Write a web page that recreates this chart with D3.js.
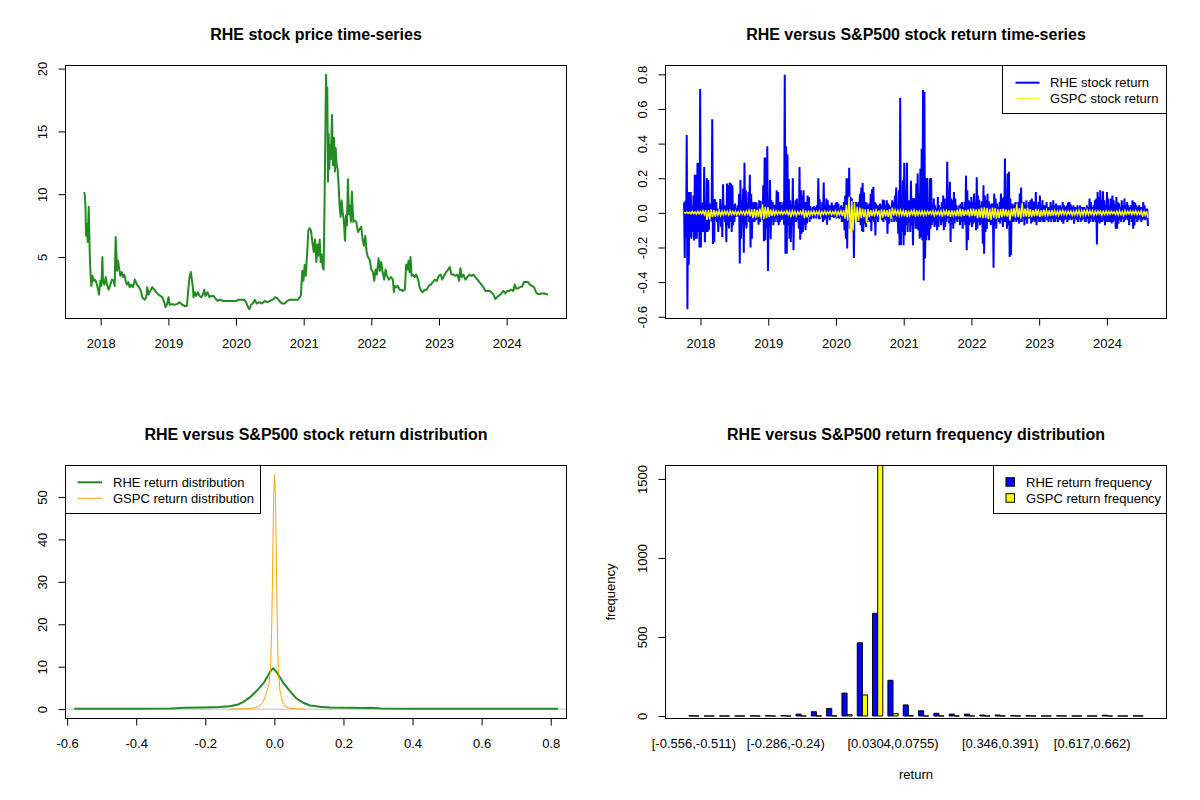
<!DOCTYPE html>
<html>
<head>
    <meta charset="UTF-8">
    <title>RHE versus S&amp;P500</title>
    <script src="https://d3js.org/d3.v7.min.js"></script>
    <style>
        body { margin: 0; background: #fff; }
        svg { display: block; font-family: "Liberation Sans", Arial, Helvetica, sans-serif; }
    </style>
</head>
<body>
    <svg id="chart" width="1200" height="800"></svg>

    <script>
        // ---- price series (decimal year, close) ----
        const priceYears = [
            2017.754, 2017.764, 2017.774, 2017.784, 2017.798, 2017.808, 2017.823, 2017.838, 2017.848, 2017.862,
            2017.877, 2017.897, 2017.916, 2017.936, 2017.961, 2017.975, 2017.995, 2018.010, 2018.025, 2018.034,
            2018.054, 2018.074, 2018.093, 2018.118, 2018.143, 2018.167, 2018.192, 2018.206, 2018.221, 2018.231,
            2018.241, 2018.256, 2018.270, 2018.290, 2018.310, 2018.329, 2018.349, 2018.369, 2018.388, 2018.408,
            2018.428, 2018.452, 2018.477, 2018.506, 2018.536, 2018.565, 2018.595, 2018.615, 2018.649, 2018.674,
            2018.688, 2018.708, 2018.733, 2018.762, 2018.792, 2018.821, 2018.851, 2018.880, 2018.910, 2018.939,
            2018.959, 2018.978, 2019.003, 2019.018, 2019.057, 2019.091, 2019.126, 2019.165, 2019.205, 2019.244,
            2019.273, 2019.293, 2019.313, 2019.332, 2019.347, 2019.362, 2019.372, 2019.391, 2019.411, 2019.436,
            2019.460, 2019.485, 2019.509, 2019.529, 2019.549, 2019.578, 2019.608, 2019.637, 2019.667, 2019.696,
            2019.731, 2019.765, 2019.804, 2019.844, 2019.883, 2019.922, 2019.962, 2020.001, 2020.040, 2020.080,
            2020.119, 2020.148, 2020.178, 2020.198, 2020.222, 2020.247, 2020.276, 2020.306, 2020.345, 2020.384,
            2020.424, 2020.463, 2020.502, 2020.542, 2020.581, 2020.611, 2020.640, 2020.679, 2020.719, 2020.758,
            2020.797, 2020.837, 2020.876, 2020.915, 2020.945, 2020.960, 2020.966, 2020.980, 2020.995, 2021.015,
            2021.030, 2021.049, 2021.069, 2021.089, 2021.108, 2021.128, 2021.148, 2021.167, 2021.187, 2021.202,
            2021.216, 2021.236, 2021.251, 2021.266, 2021.280, 2021.295, 2021.310, 2021.320, 2021.330, 2021.339,
            2021.349, 2021.359, 2021.369, 2021.379, 2021.389, 2021.403, 2021.418, 2021.433, 2021.448, 2021.462,
            2021.472, 2021.487, 2021.502, 2021.516, 2021.531, 2021.546, 2021.561, 2021.576, 2021.595, 2021.610,
            2021.625, 2021.639, 2021.654, 2021.669, 2021.684, 2021.698, 2021.713, 2021.733, 2021.753, 2021.777,
            2021.802, 2021.826, 2021.851, 2021.871, 2021.890, 2021.910, 2021.930, 2021.949, 2021.974, 2021.999,
            2022.023, 2022.043, 2022.062, 2022.082, 2022.107, 2022.126, 2022.146, 2022.166, 2022.190, 2022.210,
            2022.230, 2022.259, 2022.289, 2022.318, 2022.333, 2022.348, 2022.367, 2022.392, 2022.417, 2022.441,
            2022.466, 2022.495, 2022.515, 2022.535, 2022.549, 2022.564, 2022.579, 2022.594, 2022.613, 2022.638,
            2022.663, 2022.692, 2022.712, 2022.736, 2022.761, 2022.790, 2022.820, 2022.849, 2022.879, 2022.909,
            2022.938, 2022.968, 2022.997, 2023.027, 2023.046, 2023.076, 2023.105, 2023.135, 2023.159, 2023.184,
            2023.213, 2023.243, 2023.273, 2023.297, 2023.317, 2023.336, 2023.361, 2023.391, 2023.420, 2023.450,
            2023.479, 2023.509, 2023.538, 2023.568, 2023.597, 2023.627, 2023.656, 2023.686, 2023.715, 2023.745,
            2023.774, 2023.804, 2023.833, 2023.863, 2023.892, 2023.922, 2023.951, 2023.981, 2024.010, 2024.040,
            2024.069, 2024.099, 2024.119, 2024.138, 2024.168, 2024.197, 2024.227, 2024.256, 2024.286, 2024.315,
            2024.345, 2024.374, 2024.404, 2024.433, 2024.463, 2024.492, 2024.522, 2024.552, 2024.581, 2024.610
        ];
        const priceValues = [
            10.16, 10.0, 9.1, 6.7, 7.6, 6.2, 9.0, 5.2, 3.8, 2.7,
            3.5, 3.1, 3.2, 3.0, 2.4, 2.0, 3.1, 2.7, 5.0, 3.1,
            2.8, 3.4, 2.8, 2.4, 2.8, 3.2, 3.1, 2.7, 6.6, 5.5,
            3.9, 4.7, 4.2, 3.5, 3.8, 3.4, 3.6, 3.1, 2.8, 3.0,
            2.6, 2.8, 2.6, 3.2, 2.8, 2.6, 2.3, 1.8, 1.6, 1.8,
            2.6, 2.0, 2.3, 2.6, 2.4, 2.2, 2.0, 1.9, 1.8, 1.4,
            1.0, 1.2, 1.8, 1.2, 1.25, 1.2, 1.25, 1.4, 1.2, 1.1,
            1.1, 2.3, 3.4, 3.8, 3.2, 2.6, 1.8, 2.2, 1.9, 2.2,
            1.9, 1.8, 2.0, 2.4, 1.9, 2.2, 1.8, 1.9, 1.9, 1.7,
            1.5, 1.6, 1.5, 1.5, 1.5, 1.5, 1.5, 1.5, 1.6, 1.6,
            1.6, 1.4, 1.0, 0.85, 1.2, 1.3, 1.6, 1.3, 1.4, 1.3,
            1.5, 1.4, 1.5, 1.6, 1.8, 1.7, 1.5, 1.3, 1.3, 1.5,
            1.6, 1.6, 1.6, 1.6, 1.8, 2.0, 2.7, 3.9, 3.1, 4.36,
            3.5, 5.1, 7.1, 7.3, 7.1, 6.2, 5.4, 6.4, 4.6, 6.0,
            5.1, 6.4, 4.6, 5.2, 4.2, 4.0, 9.9, 14.7, 19.5, 17.6,
            18.5, 11.0, 14.8, 12.0, 13.9, 12.8, 16.3, 12.3, 14.5, 11.8,
            13.7, 12.3, 12.0, 10.7, 9.1, 8.2, 9.5, 8.6, 7.8, 6.3,
            8.3, 7.5, 11.2, 8.4, 9.1, 7.8, 10.2, 7.8, 7.9, 7.8,
            7.0, 7.2, 7.4, 6.4, 5.9, 6.7, 5.4, 5.0, 4.8, 4.0,
            3.8, 3.1, 4.0, 3.6, 4.9, 3.9, 4.6, 3.8, 3.2, 4.0,
            3.5, 3.2, 3.4, 3.2, 2.2, 2.7, 2.6, 2.7, 2.4, 2.4,
            2.3, 2.4, 4.4, 4.0, 4.7, 3.8, 5.0, 3.5, 3.6, 3.4,
            3.6, 3.2, 2.6, 2.3, 2.2, 2.4, 2.4, 2.7, 2.8, 3.0,
            3.2, 3.1, 3.5, 3.6, 3.2, 3.5, 3.8, 4.0, 4.2, 3.6,
            3.6, 3.5, 3.6, 3.1, 4.1, 3.4, 3.6, 3.2, 3.4, 3.6,
            3.5, 3.6, 3.4, 3.2, 3.0, 2.8, 2.6, 2.3, 2.3, 2.3,
            2.2, 2.0, 1.65, 1.85, 1.95, 2.1, 2.3, 2.1, 2.3, 2.3,
            2.4, 2.3, 2.8, 2.5, 2.5, 2.6, 2.65, 3.0, 3.0, 3.0,
            2.8, 2.7, 2.6, 2.2, 2.05, 2.05, 2.1, 2.1, 2.05, 2.0
        ];

        // ---- daily returns, in time order, evenly spaced between first and last trading day ----
        const returnFirstYear = 2017.757;
        const returnLastYear = 2024.606;
        const rheReturns = [
            0.06, -0.26, 0.07, -0.14, 0.45, -0.556, 0.12, -0.30, 0.12, -0.14, 0.12, -0.15, 0.04, -0.11, 0.10, -0.16,
            0.22, -0.15, 0.22, -0.15, 0.29, -0.11, 0.29, -0.20, 0.715, -0.20, 0.04, -0.11, 0.06, -0.11, 0.265, -0.17,
            0.054, -0.11, 0.20, -0.11, 0.19, -0.10, 0.054, -0.033, 0.044, -0.05, 0.54, -0.18, 0.08, -0.17, 0.08, -0.033,
            0.063, -0.052, 0.025, -0.11, 0.005, -0.04, 0.08, -0.08, 0.044, -0.14, 0.165, -0.033, 0.044, -0.052, 0.044, -0.17,
            0.17, -0.072, 0.16, -0.09, 0.175, -0.052, 0.17, -0.11, 0.16, -0.072, 0.044, -0.052, 0.054, -0.024, 0.025, -0.014,
            0.044, -0.024, 0.11, -0.293, 0.19, -0.15, 0.073, -0.052, 0.14, -0.23, 0.29, -0.072, 0.13, -0.09, 0.063, -0.024,
            0.12, -0.052, 0.22, -0.20, 0.11, -0.15, 0.063, -0.052, 0.059, -0.052, 0.063, -0.043, 0.059, -0.033, 0.025, -0.068,
            0.073, -0.052, 0.069, -0.024, 0.044, -0.043, 0.16, -0.164, 0.32, -0.158, 0.32, -0.09, 0.385, -0.336, 0.063, -0.072,
            0.19, -0.153, 0.073, -0.033, 0.063, -0.072, 0.044, -0.052, 0.048, -0.033, 0.13, -0.052, 0.12, -0.072, 0.063, -0.052,
            0.063, -0.043, 0.044, -0.033, 0.063, -0.068, 0.797, -0.236, 0.385, -0.236, 0.337, -0.072, 0.195, -0.149, 0.073, -0.168,
            0.048, -0.072, 0.20, -0.216, 0.044, -0.052, 0.073, -0.052, 0.083, -0.043, 0.044, -0.091, 0.265, -0.155, 0.13, -0.12,
            0.10, -0.11, 0.13, -0.068, 0.063, -0.10, 0.063, -0.062, 0.10, -0.024, 0.092, -0.052, 0.04, -0.037, 0.025, -0.024,
            0.034, -0.033, 0.04, -0.024, 0.034, -0.033, 0.044, -0.014, 0.20, -0.037, 0.079, -0.033, 0.025, -0.024, 0.063, -0.052,
            0.175, -0.043, 0.034, -0.033, 0.083, -0.068, 0.073, -0.024, 0.044, -0.043, 0.044, -0.024, 0.059, -0.024, 0.044, -0.029,
            0.044, -0.024, 0.059, -0.033, 0.063, -0.029, 0.054, -0.033, 0.025, -0.024, 0.044, -0.052, 0.034, -0.052, 0.063, -0.10,
            0.10, -0.149, 0.20, -0.206, 0.20, -0.052, 0.26, -0.091, 0.092, -0.052, 0.083, -0.033, 0.063, -0.261, 0.059, -0.052,
            0.063, -0.033, 0.054, -0.052, 0.063, -0.052, 0.11, -0.072, 0.146, -0.106, 0.173, -0.11, 0.117, -0.062, 0.063, -0.081,
            0.059, -0.052, 0.044, -0.043, 0.054, -0.052, 0.11, -0.106, 0.137, -0.043, 0.15, -0.052, 0.063, -0.13, 0.054, -0.033,
            0.044, -0.052, 0.044, -0.033, 0.054, -0.033, 0.044, -0.043, 0.077, -0.052, 0.073, -0.033, 0.044, -0.043, 0.073, -0.12,
            0.054, -0.062, 0.044, -0.033, 0.034, -0.052, 0.073, -0.024, 0.063, -0.052, 0.10, -0.043, 0.146, -0.052, 0.044, -0.12,
            0.131, -0.187, 0.665, -0.187, 0.083, -0.11, 0.189, -0.187, 0.29, -0.13, 0.131, -0.072, 0.29, -0.11, 0.073, -0.052,
            0.073, -0.11, 0.185, -0.072, 0.086, -0.187, 0.086, -0.033,
            0.083, -0.091, 0.169, -0.091, 0.227, -0.101, 0.115, -0.149, 0.256, -0.139, 0.37, -0.158, 0.71, -0.39, 0.70, -0.264,
            0.202, -0.158, 0.202, -0.13, 0.063, -0.158, 0.198, -0.091, 0.202, -0.072, 0.048, -0.052, 0.083, -0.081, 0.044, -0.072,
            0.025, -0.101, 0.092, -0.081, 0.044, -0.043, 0.034, -0.072, 0.063, -0.052, 0.10, -0.101, 0.083, -0.081, 0.044, -0.052,
            0.295, -0.033, 0.131, -0.062, 0.179, -0.168, 0.083, -0.052, 0.073, -0.091, 0.121, -0.062, 0.083, -0.043, 0.044, -0.052,
            0.025, -0.033, 0.044, -0.072, 0.054, -0.052, 0.063, -0.091, 0.034, -0.052, 0.063, -0.072, 0.215, -0.216, 0.131, -0.158,
            0.073, -0.072, 0.063, -0.052, 0.092, -0.081, 0.063, -0.062, 0.111, -0.052, 0.063, -0.101, 0.206, -0.091, 0.10, -0.052,
            0.073, -0.072, 0.044, -0.062, 0.067, -0.178, 0.16, -0.236, 0.10, -0.11, 0.073, -0.091, 0.111, -0.052, 0.067, -0.052,
            0.048, -0.072, 0.054, -0.052, 0.054, -0.317, 0.111, -0.062, 0.083, -0.091, 0.054, -0.033, 0.034, -0.052, 0.063, -0.062,
            0.111, -0.043, 0.083, -0.081, 0.092, -0.052, 0.314, -0.052, 0.063, -0.091, 0.227, -0.072, 0.237, -0.255, 0.083, -0.245,
            0.054, -0.052, 0.044, -0.052, 0.054, -0.043, 0.063, -0.052, 0.044, -0.043, 0.063, -0.062, 0.111, -0.052, 0.146, -0.052,
            0.044, -0.033, 0.063, -0.072, 0.048, -0.043, 0.073, -0.062, 0.034, -0.033, 0.063, -0.033, 0.073, -0.062, 0.083, -0.052,
            0.067, -0.043, 0.063, -0.052, 0.121, -0.072, 0.044, -0.033, 0.063, -0.052, 0.10, -0.052, 0.044, -0.043, 0.073, -0.052,
            0.044, -0.052, 0.044, -0.033, 0.063, -0.043, 0.034, -0.052, 0.034, -0.033, 0.063, -0.052, 0.044, -0.033, 0.073, -0.052,
            0.044, -0.052, 0.054, -0.033, 0.044, -0.052, 0.044, -0.043, 0.044, -0.043, 0.034, -0.052, 0.063, -0.062, 0.044, -0.043,
            0.034, -0.033, 0.044, -0.052, 0.059, -0.043, 0.063, -0.033, 0.048, -0.043, 0.034, -0.033, 0.044, -0.062, 0.034, -0.033,
            0.034, -0.043, 0.044, -0.052, 0.025, -0.033, 0.044, -0.052, 0.034, -0.043, 0.034, -0.033, 0.034, -0.052, 0.025, -0.052,
            0.044, -0.033, 0.034, -0.062, 0.083, -0.052, 0.063, -0.033, 0.034, -0.052, 0.044, -0.043, 0.073, -0.052, 0.083, -0.182,
            0.121, -0.052, 0.092, -0.062, 0.131, -0.052, 0.073, -0.052, 0.125, -0.043, 0.073, -0.072, 0.044, -0.052, 0.121, -0.052,
            0.083, -0.052, 0.044, -0.052, 0.083, -0.062, 0.10, -0.052, 0.073, -0.043, 0.048, -0.091, 0.092, -0.091, 0.063, -0.062,
            0.054, -0.043, 0.034, -0.052, 0.073, -0.033, 0.044, -0.052, 0.083, -0.043, 0.044, -0.033, 0.063, -0.043, 0.044, -0.072,
            0.034, -0.033, 0.044, -0.052, 0.073, -0.091, 0.063, -0.072, 0.058, -0.033, 0.044, -0.052, 0.034, -0.043, 0.044, -0.033,
            0.034, -0.052, 0.034, -0.043, 0.063, -0.033, 0.044, -0.043, 0.025, -0.033, 0.025, -0.075
        ];
        const gspcReturns = [
            0.004, -0.003, 0.005, -0.004, 0.004, -0.006, 0.008, -0.005, 0.006, -0.008, 0.009, -0.005, 0.008, -0.006, 0.012, -0.011,
            0.015, -0.041, 0.017, -0.038, 0.02, -0.025, 0.016, -0.022,
            0.013, -0.014, 0.012, -0.016, 0.01, -0.012, 0.011, -0.01, 0.009, -0.013, 0.012, -0.01, 0.008, -0.009, 0.01, -0.011,
            0.007, -0.01, 0.009, -0.008, 0.008, -0.012, 0.011, -0.009, 0.015, -0.02, 0.02, -0.031, 0.022, -0.028,
            0.018, -0.025, 0.024, -0.033, 0.05, -0.036, 0.035, -0.03, 0.034, -0.025, 0.02, -0.018,
            0.014, -0.012, 0.011, -0.01, 0.009, -0.008, 0.01, -0.009, 0.008, -0.007, 0.012, -0.011, 0.009, -0.024, 0.011, -0.012,
            0.01, -0.016, 0.007, -0.009, 0.008, -0.01, 0.013, -0.03, 0.014, -0.026, 0.012, -0.016, 0.009, -0.011, 0.01, -0.012,
            0.008, -0.009, 0.011, -0.017, 0.007, -0.008, 0.01, -0.009, 0.008, -0.007, 0.009, -0.01, 0.006, -0.008, 0.012, -0.016,
            0.008, -0.011, 0.011, -0.018, 0.015, -0.034,
            0.046, -0.045, 0.093, -0.12, 0.07, -0.10, 0.06, -0.06, 0.035, -0.045, 0.03, -0.03,
            0.025, -0.026, 0.02, -0.059, 0.022, -0.025, 0.015, -0.018, 0.012, -0.014, 0.016, -0.012, 0.014, -0.035, 0.02, -0.028,
            0.018, -0.02, 0.016, -0.024, 0.022, -0.035, 0.03, -0.016, 0.016, -0.012, 0.015, -0.014,
            0.015, -0.015, 0.012, -0.02, 0.016, -0.025, 0.013, -0.015, 0.011, -0.009, 0.015, -0.021, 0.014, -0.013, 0.01, -0.012,
            0.011, -0.014, 0.009, -0.013, 0.01, -0.008, 0.008, -0.009, 0.011, -0.017, 0.009, -0.01, 0.008, -0.013, 0.011, -0.022,
            0.013, -0.011, 0.012, -0.019, 0.015, -0.023, 0.014, -0.016, 0.013, -0.02, 0.018, -0.02, 0.025, -0.022, 0.02, -0.017,
            0.016, -0.014, 0.019, -0.022, 0.024, -0.019,
            0.025, -0.019, 0.02, -0.03, 0.023, -0.028, 0.03, -0.03, 0.032, -0.03, 0.029, -0.036, 0.023, -0.04, 0.03, -0.029,
            0.027, -0.033, 0.022, -0.03, 0.021, -0.026, 0.025, -0.02, 0.02, -0.022, 0.017, -0.043, 0.025, -0.021, 0.027, -0.027,
            0.05, -0.024, 0.027, -0.033, 0.055, -0.023, 0.024, -0.022, 0.03, -0.025, 0.022, -0.025, 0.016, -0.02, 0.023, -0.019,
            0.021, -0.025,
            0.015, -0.02, 0.018, -0.013, 0.016, -0.015, 0.014, -0.018, 0.017, -0.016, 0.013, -0.012, 0.011, -0.014, 0.012, -0.01,
            0.014, -0.009, 0.01, -0.012, 0.009, -0.008, 0.011, -0.014, 0.01, -0.013, 0.012, -0.011, 0.014, -0.016, 0.013, -0.014,
            0.019, -0.012, 0.016, -0.011, 0.013, -0.01, 0.012, -0.014, 0.009, -0.01, 0.011, -0.008, 0.01, -0.014, 0.008, -0.009,
            0.011, -0.01, 0.009, -0.008, 0.01, -0.006, 0.007, -0.009, 0.01, -0.012, 0.012, -0.011, 0.008, -0.016, 0.012, -0.009,
            0.01, -0.007, 0.011, -0.01, 0.009, -0.008, 0.012, -0.011, 0.008, -0.009, 0.011, -0.023, 0.012, -0.015, 0.01, -0.03
        ];

        // ---- return densities ----
        const densRheX = [-0.579, -0.5, -0.4, -0.3, -0.262, -0.207, -0.158, -0.129, -0.105, -0.09, -0.071, -0.052, -0.032, -0.018, -0.011,
            -0.0035, 0.006, 0.016, 0.026, 0.045, 0.064, 0.084, 0.103, 0.132, 0.161, 0.219, 0.262, 0.277, 0.31, 0.4, 0.5, 0.6, 0.7, 0.821];
        const densRheY = [0.1, 0.1, 0.1, 0.12, 0.3, 0.38, 0.5, 0.68, 1.1, 1.73, 2.76, 4.25, 6.06, 8.0, 9.0,
            9.6, 8.8, 7.5, 6.2, 4.25, 2.5, 1.5, 0.87, 0.55, 0.39, 0.3, 0.25, 0.35, 0.15, 0.1, 0.1, 0.1, 0.1, 0.1];
        const densGspcX = [-0.13, -0.1, -0.08, -0.06, -0.047, -0.035, -0.026, -0.016, -0.011, -0.008, -0.006, -0.004, -0.002,
            0.0005, 0.003, 0.005, 0.007, 0.009, 0.011, 0.016, 0.021, 0.026, 0.033, 0.045, 0.06, 0.09];
        const densGspcY = [0.02, 0.05, 0.1, 0.25, 0.55, 1.4, 2.9, 5.7, 9.6, 18, 28, 40, 50,
            55.2, 50, 40, 28, 18, 9.6, 4.5, 2.4, 1.3, 0.55, 0.2, 0.08, 0.02];
        const densityXLim = [-0.551, 0.792];

        // ---- return frequency table ----
        const binLabels = [
            "[-0.556,-0.511)", "[-0.511,-0.466)", "[-0.466,-0.421)", "[-0.421,-0.376)", "[-0.376,-0.331)",
            "[-0.331,-0.286)", "[-0.286,-0.24)", "[-0.24,-0.195)", "[-0.195,-0.15)", "[-0.15,-0.105)",
            "[-0.105,-0.0599)", "[-0.0599,-0.0147)", "[-0.0147,0.0304)", "[0.0304,0.0755)", "[0.0755,0.121)",
            "[0.121,0.166)", "[0.166,0.211)", "[0.211,0.256)", "[0.256,0.301)", "[0.301,0.346)",
            "[0.346,0.391)", "[0.391,0.437)", "[0.437,0.482)", "[0.482,0.527)", "[0.527,0.572)",
            "[0.572,0.617)", "[0.617,0.662)", "[0.662,0.707)", "[0.707,0.752)", "[0.752,0.798]"
        ];
        const rheFreq = [1, 0, 0, 0, 1, 2, 3, 12, 27, 48, 145, 463, 650, 226, 70, 33, 17, 12, 12, 6, 6, 2, 1, 0, 1, 0, 0, 5, 0, 1];
        const gspcFreq = [0, 0, 0, 0, 0, 0, 0, 0, 0, 1, 8, 133, 1585, 15, 2, 0, 0, 0, 0, 0, 0, 0, 0, 0, 0, 0, 0, 0, 0, 0];
        const shownBins = [0, 6, 13, 20, 26];

        const yearTicks = [2018, 2019, 2020, 2021, 2022, 2023, 2024];
        const priceTicks = [5, 10, 15, 20];
        const returnTicks = [-0.6, -0.4, -0.2, 0.0, 0.2, 0.4, 0.6, 0.8];
        const densityTicks = [0, 10, 20, 30, 40, 50];
        const freqTicks = [0, 500, 1000, 1500];

        // ---- layout ----
        const FONT = "'Liberation Sans', Arial, Helvetica, sans-serif";
        const svg = d3.select("#chart");
        svg.append("rect").attr("width", 1200).attr("height", 800).attr("fill", "#fff");

        // R style 4% range extension
        const rPad = ([a, b]) => [a - 0.04 * (b - a), b + 0.04 * (b - a)];
        const fmt1 = d => d.toFixed(1);

        function panel(col, row, title) {
            const p = {
                x0: col * 600 + 65.5, x1: col * 600 + 566.5,
                y0: row * 400 + 65.5, y1: row * 400 + 318.5
            };
            svg.append("text")
                .attr("x", (p.x0 + p.x1) / 2).attr("y", row * 400 + 40)
                .attr("text-anchor", "middle").attr("font-weight", "bold")
                .attr("font-size", 16).attr("font-family", FONT)
                .text(title);
            return p;
        }

        function box(p) {
            svg.append("rect")
                .attr("x", p.x0).attr("y", p.y0)
                .attr("width", p.x1 - p.x0).attr("height", p.y1 - p.y0)
                .attr("fill", "none").attr("stroke", "#000").attr("stroke-width", 1);
        }

        function bottomAxis(p, scale, ticks, format) {
            const g = svg.append("g").attr("transform", `translate(0,${p.y1})`);
            g.call(d3.axisBottom(scale).tickValues(ticks).tickFormat(format).tickSize(7).tickSizeOuter(0));
            g.attr("font-size", 13).attr("font-family", FONT).attr("color", "#000");
            g.select(".domain").attr("d", `M${scale(ticks[0])},0H${scale(ticks[ticks.length - 1])}`);
            g.selectAll(".tick text").attr("y", 29.5).attr("dy", null);
        }

        function leftAxis(p, scale, ticks, format) {
            const g = svg.append("g").attr("transform", `translate(${p.x0},0)`);
            g.call(d3.axisLeft(scale).tickValues(ticks).tickFormat(format).tickSize(7).tickSizeOuter(0));
            g.attr("font-size", 13).attr("font-family", FONT).attr("color", "#000");
            g.select(".domain").attr("d", `M0,${scale(ticks[0])}V${scale(ticks[ticks.length - 1])}`);
            g.selectAll(".tick text")
                .attr("x", 0).attr("dy", null)
                .attr("text-anchor", "middle")
                .attr("transform", "translate(-18.5,0) rotate(-90)");
        }

        function legendFrame(x0, x1, y0, y1) {
            svg.append("rect")
                .attr("x", x0).attr("y", y0).attr("width", x1 - x0).attr("height", y1 - y0)
                .attr("fill", "#fff").attr("stroke", "#000").attr("stroke-width", 1);
        }

        function legendText(x, y, label) {
            svg.append("text").attr("x", x).attr("y", y + 4.7)
                .attr("font-size", 13).attr("font-family", FONT).text(label);
        }

        // ---- 1. price time-series ----
        {
            const p = panel(0, 0, "RHE stock price time-series");
            const x = d3.scaleLinear().domain(rPad(d3.extent(priceYears))).range([p.x0, p.x1]);
            const y = d3.scaleLinear().domain(rPad(d3.extent(priceValues))).range([p.y1, p.y0]);
            svg.append("path")
                .datum(priceValues)
                .attr("fill", "none").attr("stroke", "#228B22").attr("stroke-width", 2)
                .attr("stroke-linejoin", "round")
                .attr("d", d3.line().x((d, i) => x(priceYears[i])).y(d => y(d)));
            bottomAxis(p, x, yearTicks, d => String(d));
            leftAxis(p, y, priceTicks, d => String(d));
            box(p);
        }

        // ---- 2. return time-series ----
        {
            const p = panel(1, 0, "RHE versus S&P500 stock return time-series");
            const x = d3.scaleLinear().domain(rPad([returnFirstYear, returnLastYear])).range([p.x0, p.x1]);
            const y = d3.scaleLinear().domain(rPad(d3.extent(rheReturns.concat(gspcReturns)))).range([p.y1, p.y0]);
            const tOf = arr => i => returnFirstYear + i * (returnLastYear - returnFirstYear) / (arr.length - 1);
            const tRhe = tOf(rheReturns), tGspc = tOf(gspcReturns);
            svg.append("path")
                .datum(rheReturns)
                .attr("fill", "none").attr("stroke", "#0000FF").attr("stroke-width", 2)
                .attr("d", d3.line().x((d, i) => x(tRhe(i))).y(d => y(d)));
            svg.append("path")
                .datum(gspcReturns)
                .attr("fill", "none").attr("stroke", "#FFFF00").attr("stroke-width", 1.4)
                .attr("d", d3.line().x((d, i) => x(tGspc(i))).y(d => y(d)));
            bottomAxis(p, x, yearTicks, d => String(d));
            leftAxis(p, y, returnTicks, fmt1);
            box(p);

            legendFrame(1002.5, p.x1, p.y0, 113.5);
            svg.append("line").attr("x1", 1015.5).attr("x2", 1039.5).attr("y1", 82.7).attr("y2", 82.7)
                .attr("stroke", "#0000FF").attr("stroke-width", 2);
            svg.append("line").attr("x1", 1015.5).attr("x2", 1039.5).attr("y1", 98.3).attr("y2", 98.3)
                .attr("stroke", "#FFFF00").attr("stroke-width", 1);
            legendText(1050, 82.7, "RHE stock return");
            legendText(1050, 98.3, "GSPC stock return");
        }

        // ---- 3. return distribution ----
        {
            const p = panel(0, 1, "RHE versus S&P500 stock return distribution");
            const x = d3.scaleLinear().domain(rPad(densityXLim)).range([p.x0, p.x1]);
            const y = d3.scaleLinear().domain(rPad(d3.extent(densRheY.concat(densGspcY, [0])))).range([p.y1, p.y0]);
            svg.append("line")
                .attr("x1", p.x0).attr("x2", p.x1).attr("y1", y(0)).attr("y2", y(0))
                .attr("stroke", "#BEBEBE").attr("stroke-width", 1);
            svg.append("path")
                .datum(densRheY)
                .attr("fill", "none").attr("stroke", "#228B22").attr("stroke-width", 2)
                .attr("d", d3.line().x((d, i) => x(densRheX[i])).y(d => y(d)));
            svg.append("path")
                .datum(densGspcY)
                .attr("fill", "none").attr("stroke", "#FFA500").attr("stroke-width", 1)
                .attr("d", d3.line().x((d, i) => x(densGspcX[i])).y(d => y(d)));
            bottomAxis(p, x, returnTicks, fmt1);
            leftAxis(p, y, densityTicks, d => String(d));
            box(p);

            legendFrame(p.x0, 260.5, p.y0, 513.5);
            svg.append("line").attr("x1", 77.5).attr("x2", 102).attr("y1", 482.3).attr("y2", 482.3)
                .attr("stroke", "#228B22").attr("stroke-width", 2);
            svg.append("line").attr("x1", 77.5).attr("x2", 102).attr("y1", 498.3).attr("y2", 498.3)
                .attr("stroke", "#FFA500").attr("stroke-width", 1);
            legendText(113, 482.3, "RHE return distribution");
            legendText(113, 498.3, "GSPC return distribution");
        }

        // ---- 4. return frequency distribution ----
        {
            const p = panel(1, 1, "RHE versus S&P500 return frequency distribution");
            const nBins = binLabels.length;
            // groups of two bars, one bar-width gap, plus the 4% range extension at both ends
            const outer = (1 + 0.04 * (3 * nBins - 1)) / 3;
            const xGroup = d3.scaleBand().domain(d3.range(nBins)).range([p.x0, p.x1])
                .paddingInner(1 / 3).paddingOuter(outer);
            const xSeries = d3.scaleBand().domain(["rhe", "gspc"]).range([0, xGroup.bandwidth()]);
            const yMax = d3.max(rheFreq.concat(gspcFreq));
            const y = d3.scaleLinear().domain([-0.01 * yMax, yMax]).range([p.y1, p.y0]);

            const series = [
                { key: "rhe", values: rheFreq, color: "#0000FF" },
                { key: "gspc", values: gspcFreq, color: "#FFFF00" }
            ];
            series.forEach(s => {
                svg.append("g").selectAll("path")
                    .data(s.values)
                    .join("path")
                    .attr("fill", s.color).attr("stroke", "#000").attr("stroke-width", 1)
                    .attr("d", (d, i) => {
                        const bx = xGroup(i) + xSeries(s.key), bw = xSeries.bandwidth();
                        return `M${bx},${y(0)}H${bx + bw}V${y(d)}H${bx}Z`;
                    });
            });

            svg.append("g").selectAll("text")
                .data(shownBins)
                .join("text")
                .attr("x", i => xGroup(i) + xGroup.bandwidth() / 2)
                .attr("y", p.y1 + 29.5)
                .attr("text-anchor", "middle").attr("font-size", 13).attr("font-family", FONT)
                .text(i => binLabels[i]);

            leftAxis(p, y, freqTicks, d => String(d));
            box(p);

            svg.append("text")
                .attr("x", (p.x0 + p.x1) / 2).attr("y", 779)
                .attr("text-anchor", "middle").attr("font-size", 13).attr("font-family", FONT)
                .text("return");
            svg.append("text")
                .attr("transform", `translate(615,${(p.y0 + p.y1) / 2}) rotate(-90)`)
                .attr("text-anchor", "middle").attr("font-size", 13).attr("font-family", FONT)
                .text("frequency");

            legendFrame(993.5, p.x1, p.y0, 513.5);
            svg.append("rect").attr("x", 1006).attr("y", 477.7).attr("width", 8.5).attr("height", 8.5)
                .attr("fill", "#0000FF").attr("stroke", "#000");
            svg.append("rect").attr("x", 1006).attr("y", 493.7).attr("width", 8.5).attr("height", 8.5)
                .attr("fill", "#FFFF00").attr("stroke", "#000");
            legendText(1026, 482.3, "RHE return frequency");
            legendText(1026, 498.3, "GSPC return frequency");
        }
    </script>
</body>
</html>
